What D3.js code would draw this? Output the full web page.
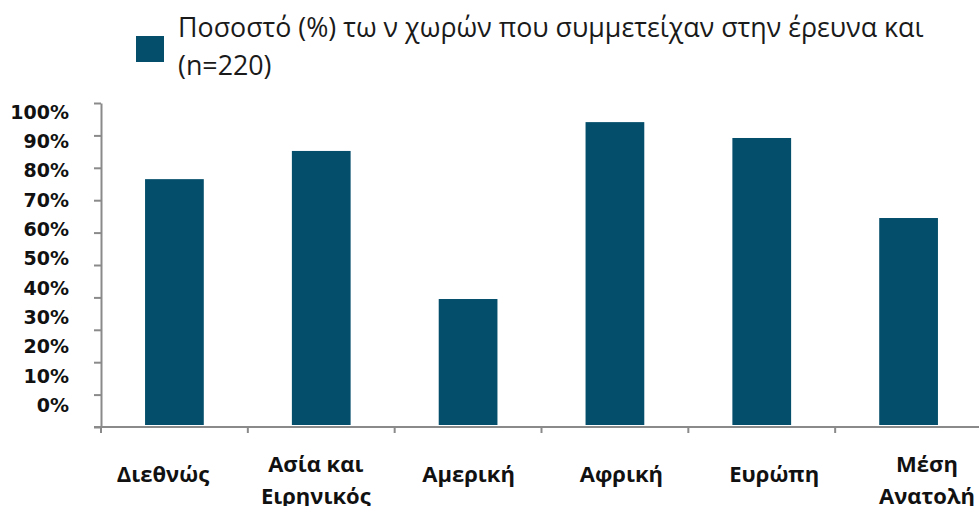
<!DOCTYPE html>
<html>
<head>
<meta charset="utf-8">
<script src="https://cdn.jsdelivr.net/npm/d3@7/dist/d3.min.js"></script>
<style>
  html, body { margin: 0; padding: 0; background: #fff; }
  svg { display: block; font-family: "Open Sans", "Noto Sans", sans-serif; }
</style>
</head>
<body>
<svg id="chart" width="979" height="506"></svg>
<script>
// ---- data ----
const categories = [
  ["Διεθνώς"],
  ["Ασία και", "Ειρηνικός"],
  ["Αμερική"],
  ["Αφρική"],
  ["Ευρώπη"],
  ["Μέση", "Ανατολή"]
];
const values = [76.5, 85.2, 39.5, 94.1, 89.2, 64.5];
const yTicks = [0, 10, 20, 30, 40, 50, 60, 70, 80, 90, 100];
const yTickLabels = ["0%", "10%", "20%", "30%", "40%", "50%", "60%", "70%", "80%", "90%", "100%"];
const legendLines = ["Ποσοστό (%) τω ν χωρών που συμμετείχαν στην έρευνα και", "(n=220)"];

// ---- drawing ----
const svg = d3.select("#chart");
const barColor = "#044e6b";
const axisColor = "#8a8a8a";

const keys = categories.map(c => c.join(" "));
const x = d3.scaleBand().domain(keys).range([101, 982]).paddingInner(0.6).paddingOuter(0.3);
// category labels in the reference sit on a slightly wider grid than the bars
const xLab = d3.scalePoint().domain(keys).range([163, 927]);
const y = d3.scaleLinear().domain([0, 100]).range([427, 103]);
// tick labels in the reference sit on a slightly compressed grid
const yLab = d3.scaleLinear().domain([0, 100]).range([405, 112]);

// bars
svg.append("g").selectAll("rect").data(values).join("rect")
  .attr("x", (d, i) => x(keys[i]))
  .attr("y", d => y(d))
  .attr("width", x.bandwidth())
  .attr("height", d => y(0) - y(d) - 2)
  .attr("fill", barColor);

// y axis (ticks only, labels drawn separately)
const yAxis = svg.append("g").attr("transform", "translate(101,0)")
  .call(d3.axisLeft(y).tickValues(yTicks).tickFormat("").tickSize(7).tickSizeOuter(0));
yAxis.select(".domain").attr("stroke", axisColor).attr("stroke-width", 2);
yAxis.selectAll(".tick line").attr("stroke", axisColor).attr("stroke-width", 2);

svg.append("g").selectAll("text").data(yTicks).join("text")
  .attr("x", 69)
  .attr("y", d => yLab(d))
  .attr("dy", "0.36em")
  .attr("text-anchor", "end")
  .style("font-family", "'DejaVu Sans', sans-serif")
  .style("font-size", "19px")
  .style("font-weight", 700)
  .attr("fill", "#111")
  .text((d, i) => yTickLabels[i]);

// x axis line
svg.append("line")
  .attr("x1", 94).attr("x2", 979)
  .attr("y1", y(0)).attr("y2", y(0))
  .attr("stroke", axisColor).attr("stroke-width", 2);

// category boundary ticks
const gap = (x.step() - x.bandwidth()) / 2;
svg.append("g").selectAll("line").data(keys).join("line")
  .attr("x1", d => x(d) - gap).attr("x2", d => x(d) - gap)
  .attr("y1", y(0)).attr("y2", y(0) + 6)
  .attr("stroke", axisColor).attr("stroke-width", 2);

// category labels
const lab = svg.append("g").selectAll("text").data(categories).join("text")
  .attr("text-anchor", "middle")
  .style("font-size", "22px")
  .style("font-weight", 700)
  .attr("fill", "#111")
  .attr("x", (d, i) => xLab(keys[i]))
  .attr("y", d => d.length > 1 ? 472 : 482);
lab.selectAll("tspan").data(d => d).join("tspan")
  .attr("x", function () { return d3.select(this.parentNode).attr("x"); })
  .attr("dy", (d, i) => i === 0 ? 0 : 32)
  .text(d => d);

// legend
svg.append("rect").attr("x", 136).attr("y", 36).attr("width", 28).attr("height", 26).attr("fill", barColor);
svg.append("g").selectAll("text").data(legendLines).join("text")
  .attr("x", 178)
  .attr("y", (d, i) => 37 + i * 38)
  .style("font-size", "26.8px")
  .attr("fill", "#1a1a1a")
  .text(d => d);
</script>
</body>
</html>
